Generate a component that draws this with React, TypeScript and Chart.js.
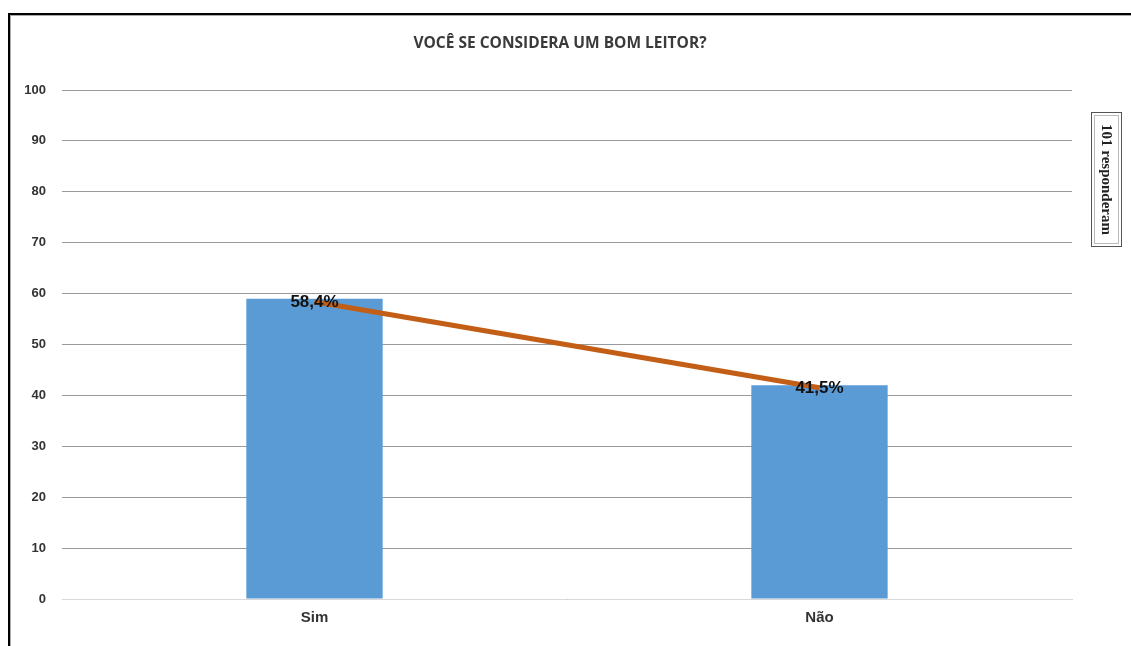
import React, { useEffect, useRef } from "react";
import { Chart, registerables } from "chart.js";

Chart.register(...registerables);

const categories = ["Sim", "Não"];
const barValues = [59, 42];
const percentValues = [58.4, 41.5];
const yTicks = [0, 10, 20, 30, 40, 50, 60, 70, 80, 90, 100];
const titleText = "VOCÊ SE CONSIDERA UM BOM LEITOR?";
const sideNote = "101 responderam";

export default function App() {
  const ref = useRef<HTMLCanvasElement | null>(null);

  useEffect(() => {
    const canvas = ref.current;
    if (!canvas) return;

    const titlePlugin = {
      id: "customTitle",
      afterDraw(chart: any) {
        const ctx = chart.ctx;
        ctx.save();
        ctx.font = "bold 15.5px 'Open Sans'";
        ctx.fillStyle = "#3a3a3a";
        ctx.textAlign = "center";
        ctx.textBaseline = "middle";
        ctx.fillText(titleText, 560, 44);
        ctx.restore();
      },
    };

    const labelPlugin = {
      id: "pctLabels",
      afterDatasetsDraw(chart: any) {
        const meta = chart.getDatasetMeta(1);
        const ctx = chart.ctx;
        ctx.save();
        ctx.font = "bold 17px 'Liberation Sans', Arial";
        ctx.fillStyle = "#111";
        ctx.textAlign = "center";
        ctx.textBaseline = "middle";
        meta.data.forEach((pt: any, i: number) => {
          const txt = percentValues[i].toFixed(1).replace(".", ",") + "%";
          ctx.fillText(txt, pt.x, pt.y + 1);
        });
        ctx.restore();
      },
    };

    const chart = new Chart(canvas, {
      type: "bar",
      data: {
        labels: categories,
        datasets: [
          {
            type: "bar",
            data: barValues,
            backgroundColor: "#5b9bd5",
            barPercentage: 0.27,
            categoryPercentage: 1,
            order: 2,
          },
          {
            type: "line",
            data: percentValues,
            borderColor: "#c25e16",
            borderWidth: 5,
            pointRadius: 0,
            order: 1,
          } as any,
        ],
      },
      options: {
        animation: false,
        responsive: false,
        layout: { padding: { left: 0, right: 59, top: 90, bottom: 0 } },
        plugins: {
          legend: { display: false },
          tooltip: { enabled: false },
          title: { display: false },
        },
        scales: {
          x: {
            grid: { display: false, drawTicks: false },
            border: { display: true, color: "#d9d9d9" },
            ticks: {
              padding: 10,
              color: "#333",
              font: { family: "'Liberation Sans', Arial", size: 15, weight: "bold" },
            },
            afterFit(scale: any) {
              scale.height = 47;
            },
          },
          y: {
            min: 0,
            max: 100,
            afterBuildTicks(scale: any) {
              scale.ticks = yTicks.map((v) => ({ value: v }));
            },
            grid: { color: "#9a9a9a", drawTicks: false },
            border: { display: false },
            ticks: {
              padding: 16,
              color: "#333",
              font: { family: "'Liberation Sans', Arial", size: 13, weight: "bold" },
            },
            afterFit(scale: any) {
              scale.width = 62;
            },
          },
        },
      },
      plugins: [titlePlugin, labelPlugin],
    } as any);

    return () => chart.destroy();
  }, []);

  return (
    <div style={{ position: "fixed", left: 0, top: 0, width: 1131, height: 646, overflow: "hidden", background: "#fff" }}>
      <div
        style={{
          position: "absolute",
          left: 8,
          top: 13,
          width: 1300,
          height: 800,
          borderLeft: "2px solid #000",
          borderTop: "2px solid #000",
          boxShadow: "1px 1px 0 #aaa inset",
        }}
      />
      <canvas ref={ref} width={1131} height={646} style={{ position: "absolute", left: 0, top: 0 }} />
      <div
        style={{
          position: "absolute",
          left: 1091,
          top: 112,
          width: 31,
          height: 135,
          border: "1px solid #555",
          boxShadow: "inset 0 0 0 2px #fff, inset 0 0 0 3px #bbb",
          writingMode: "vertical-rl",
          display: "flex",
          alignItems: "center",
          justifyContent: "center",
          fontFamily: "'Liberation Serif', serif",
          fontWeight: "bold",
          fontSize: 15,
          color: "#222",
          boxSizing: "border-box",
        }}
      >
        {sideNote}
      </div>
    </div>
  );
}
